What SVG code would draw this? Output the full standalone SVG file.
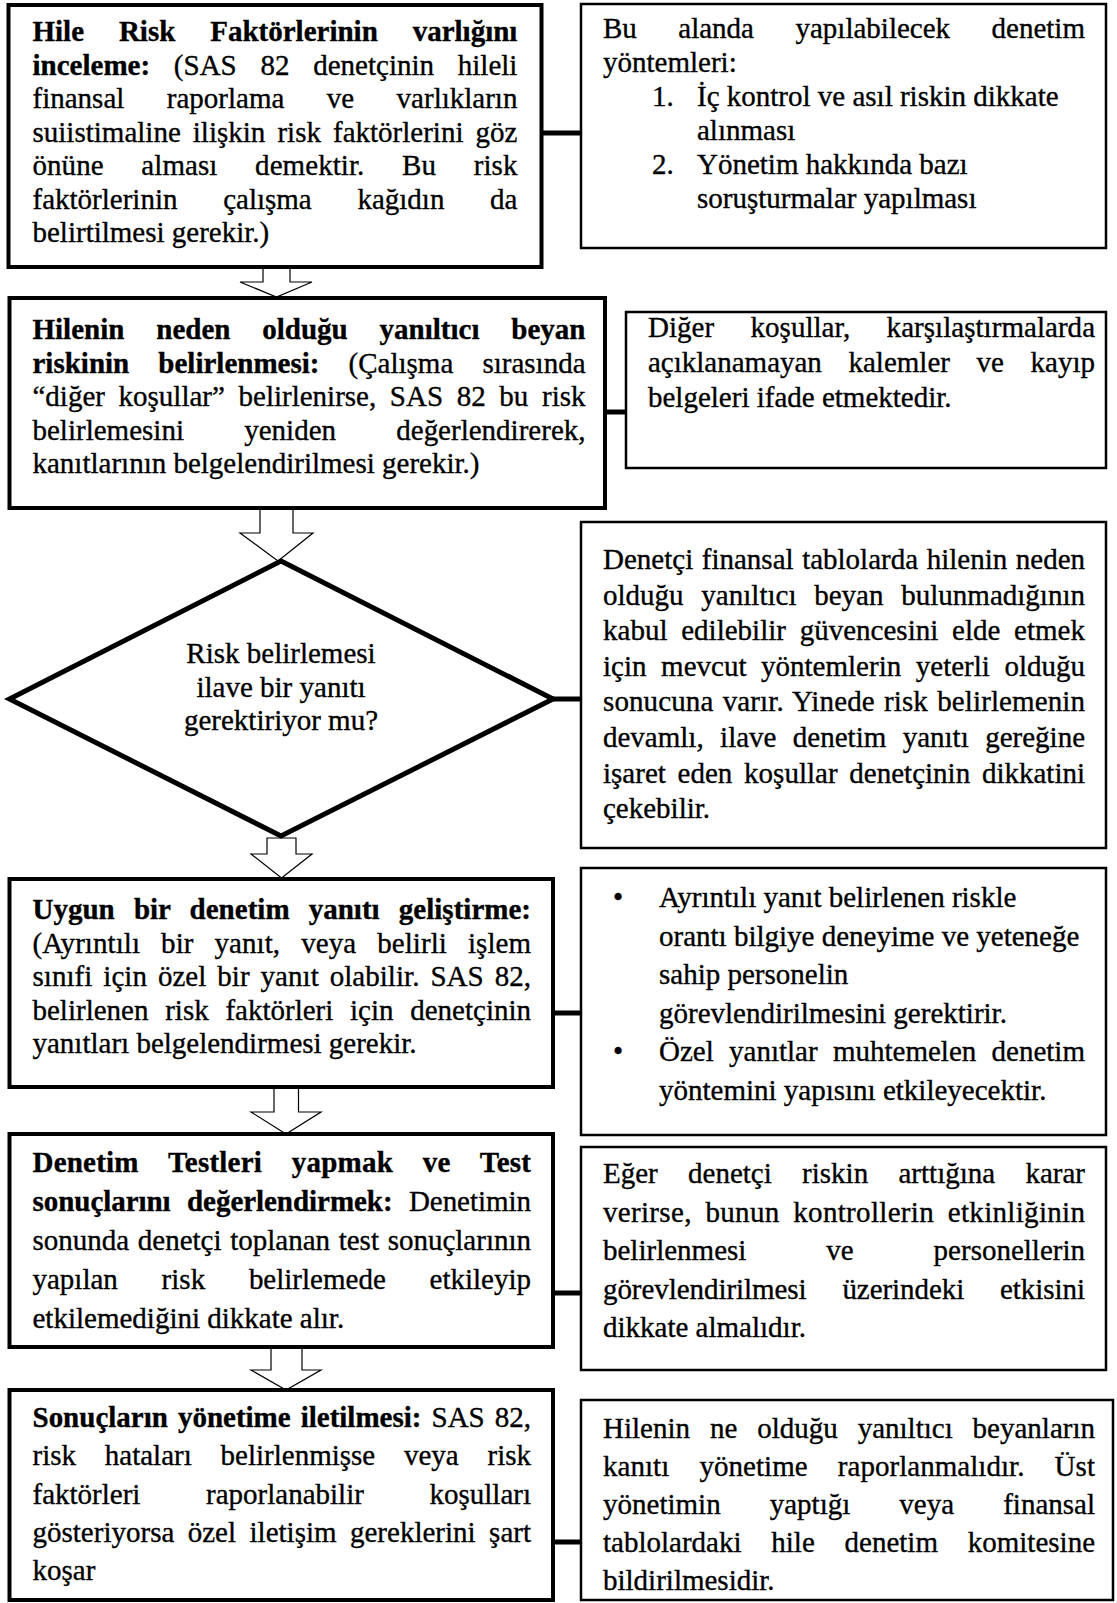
<svg xmlns="http://www.w3.org/2000/svg" width="1117" height="1603" viewBox="0 0 1117 1603">
  <style>
    .t { font-family: "Liberation Serif", "Times New Roman", serif; font-size: 29px; fill: #000; stroke: #000; stroke-width: 0.35px; }
    .b { font-weight: bold; }
    .box { fill: #fff; stroke: #000; stroke-width: 4; }
    .rbox { fill: #fff; stroke: #000; stroke-width: 2.5; }
    .dia { fill: #fff; stroke: #000; stroke-width: 5; stroke-linejoin: miter; }
    .conn { stroke: #000; stroke-width: 5; fill: none; }
    .arrow { fill: #fff; stroke: #000; stroke-width: 1.2; stroke-linejoin: miter; }
  </style>
  <rect width="1117" height="1603" fill="#fff"/>

  <!-- connectors: block arrows down the main column, bars to the side notes -->
  <g id="connectors">
    <path class="arrow" d="M263,267 L263,282 L240,282 L276.5,297 L312,282 L290,282 L290,267 Z"/>
    <path class="arrow" d="M260,508 L260,533 L240,533 L278,561 L313,533 L293,533 L293,508 Z"/>
    <path class="arrow" d="M267,838 L267,854 L251,854 L281.5,878 L312,854 L296,854 L296,838 Z"/>
    <path class="arrow" d="M274,1087 L274,1112 L251,1112 L286,1134 L321,1112 L298.5,1112 L298.5,1087 Z"/>
    <path class="arrow" d="M271,1347 L271,1370 L251,1370 L286,1390 L321,1370 L302,1370 L302,1347 Z"/>
    <line class="conn" x1="541" y1="133" x2="582" y2="133"/>
    <line class="conn" x1="605" y1="412" x2="627" y2="412"/>
    <line class="conn" x1="553" y1="699" x2="582" y2="699"/>
    <line class="conn" x1="553" y1="1013" x2="582" y2="1013"/>
    <line class="conn" x1="553" y1="1293" x2="582" y2="1293"/>
    <line class="conn" x1="553" y1="1542" x2="582" y2="1542"/>
  </g>

  <!-- step 1 -->
  <g id="step1">
    <rect class="box" x="8.5" y="5" width="533" height="262"/>
    <text class="t b" x="32.5" y="41" textLength="484.9" lengthAdjust="spacing" style="word-spacing:27.6px">Hile Risk Faktörlerinin varlığını</text>
    <text class="t" x="32.5" y="74.5" textLength="484.9" lengthAdjust="spacing" style="word-spacing:16.5px"><tspan class="b">inceleme:</tspan> (SAS 82 denetçinin hileli</text>
    <text class="t" x="32.5" y="108" textLength="484.9" lengthAdjust="spacing" style="word-spacing:35.2px">finansal raporlama ve varlıkların</text>
    <text class="t" x="32.5" y="141.5" textLength="484.9" lengthAdjust="spacing" style="word-spacing:4.8px">suiistimaline ilişkin risk faktörlerini göz</text>
    <text class="t" x="32.5" y="175" textLength="484.9" lengthAdjust="spacing" style="word-spacing:30.4px">önüne alması demektir. Bu risk</text>
    <text class="t" x="32.5" y="208.5" textLength="484.9" lengthAdjust="spacing" style="word-spacing:38.4px">faktörlerinin çalışma kağıdın da</text>
    <text class="t" x="32.5" y="242">belirtilmesi gerekir.)</text>
  </g>
  <g id="note1">
    <rect class="rbox" x="581" y="4" width="525" height="244"/>
    <text class="t" x="603" y="38" textLength="482" lengthAdjust="spacing" style="word-spacing:34.2px">Bu alanda yapılabilecek denetim</text>
    <text class="t" x="603" y="72">yöntemleri:</text>
    <text class="t" x="652" y="106">1.</text>
    <text class="t" x="697" y="106">İç kontrol ve asıl riskin dikkate</text>
    <text class="t" x="697" y="140">alınması</text>
    <text class="t" x="652" y="174">2.</text>
    <text class="t" x="697" y="174">Yönetim hakkında bazı</text>
    <text class="t" x="697" y="208">soruşturmalar yapılması</text>
  </g>

  <!-- step 2 -->
  <g id="step2">
    <rect class="box" x="9.5" y="298" width="595.5" height="210"/>
    <text class="t b" x="32.5" y="339" textLength="553" lengthAdjust="spacing" style="word-spacing:24.6px">Hilenin neden olduğu yanıltıcı beyan</text>
    <text class="t" x="32.5" y="372.5" textLength="553" lengthAdjust="spacing" style="word-spacing:21.9px"><tspan class="b">riskinin belirlenmesi:</tspan> (Çalışma sırasında</text>
    <text class="t" x="32.5" y="406" textLength="553" lengthAdjust="spacing" style="word-spacing:6.4px">“diğer koşullar” belirlenirse, SAS 82 bu risk</text>
    <text class="t" x="32.5" y="439.5" textLength="553" lengthAdjust="spacing" style="word-spacing:53px">belirlemesini yeniden değerlendirerek,</text>
    <text class="t" x="32.5" y="473">kanıtlarının belgelendirilmesi gerekir.)</text>
  </g>
  <g id="note2">
    <rect class="rbox" x="626" y="312" width="480" height="156"/>
    <text class="t" x="648" y="337" textLength="447" lengthAdjust="spacing" style="word-spacing:29px">Diğer koşullar, karşılaştırmalarda</text>
    <text class="t" x="648" y="372" textLength="447" lengthAdjust="spacing" style="word-spacing:19.4px">açıklanamayan kalemler ve kayıp</text>
    <text class="t" x="648" y="407">belgeleri ifade etmektedir.</text>
  </g>

  <!-- decision -->
  <g id="decision">
    <polygon class="dia" points="281,561 553,699 281,836 9.5,699"/>
    <text class="t" x="281" y="663" text-anchor="middle">Risk belirlemesi</text>
    <text class="t" x="281" y="697" text-anchor="middle">ilave bir yanıtı</text>
    <text class="t" x="281" y="730" text-anchor="middle">gerektiriyor mu?</text>
  </g>
  <g id="note3">
    <rect class="rbox" x="581" y="522" width="525" height="326"/>
    <text class="t" x="603" y="569" textLength="482" lengthAdjust="spacing" style="word-spacing:1.3px">Denetçi finansal tablolarda hilenin neden</text>
    <text class="t" x="603" y="604.6" textLength="482" lengthAdjust="spacing" style="word-spacing:10.5px">olduğu yanıltıcı beyan bulunmadığının</text>
    <text class="t" x="603" y="640.2" textLength="482" lengthAdjust="spacing" style="word-spacing:6.5px">kabul edilebilir güvencesini elde etmek</text>
    <text class="t" x="603" y="675.8" textLength="482" lengthAdjust="spacing" style="word-spacing:7.3px">için mevcut yöntemlerin yeterli olduğu</text>
    <text class="t" x="603" y="711.4" textLength="482" lengthAdjust="spacing" style="word-spacing:1.9px">sonucuna varır. Yinede risk belirlemenin</text>
    <text class="t" x="603" y="747" textLength="482" lengthAdjust="spacing" style="word-spacing:9.15px">devamlı, ilave denetim yanıtı gereğine</text>
    <text class="t" x="603" y="782.6" textLength="482" lengthAdjust="spacing" style="word-spacing:4.5px">işaret eden koşullar denetçinin dikkatini</text>
    <text class="t" x="603" y="818.2">çekebilir.</text>
  </g>

  <!-- step 3 -->
  <g id="step3">
    <rect class="box" x="9.5" y="879" width="543.5" height="208"/>
    <text class="t b" x="32.5" y="919" textLength="498.5" lengthAdjust="spacing" style="word-spacing:11.85px">Uygun bir denetim yanıtı geliştirme:</text>
    <text class="t" x="32.5" y="952.5" textLength="498.5" lengthAdjust="spacing" style="word-spacing:13.7px">(Ayrıntılı bir yanıt, veya belirli işlem</text>
    <text class="t" x="32.5" y="986" textLength="498.5" lengthAdjust="spacing" style="word-spacing:3.66px">sınıfi için özel bir yanıt olabilir. SAS 82,</text>
    <text class="t" x="32.5" y="1019.5" textLength="498.5" lengthAdjust="spacing" style="word-spacing:9.45px">belirlenen risk faktörleri için denetçinin</text>
    <text class="t" x="32.5" y="1053">yanıtları belgelendirmesi gerekir.</text>
  </g>
  <g id="note4">
    <rect class="rbox" x="581" y="868" width="525" height="267"/>
    <text class="t" x="618" y="907" text-anchor="middle">•</text>
    <text class="t" x="659" y="907">Ayrıntılı yanıt belirlenen riskle</text>
    <text class="t" x="659" y="945.6">orantı bilgiye deneyime ve yeteneğe</text>
    <text class="t" x="659" y="984.2">sahip personelin</text>
    <text class="t" x="659" y="1022.8">görevlendirilmesini gerektirir.</text>
    <text class="t" x="618" y="1061.4" text-anchor="middle">•</text>
    <text class="t" x="659" y="1061.4" textLength="426" lengthAdjust="spacing" style="word-spacing:8px">Özel yanıtlar muhtemelen denetim</text>
    <text class="t" x="659" y="1100">yöntemini yapısını etkileyecektir.</text>
  </g>

  <!-- step 4 -->
  <g id="step4">
    <rect class="box" x="9.5" y="1134" width="543.5" height="213"/>
    <text class="t b" x="32.5" y="1172" textLength="498.5" lengthAdjust="spacing" style="word-spacing:22.3px">Denetim Testleri yapmak ve Test</text>
    <text class="t" x="32.5" y="1211" textLength="498.5" lengthAdjust="spacing" style="word-spacing:9.2px"><tspan class="b">sonuçlarını değerlendirmek:</tspan> Denetimin</text>
    <text class="t" x="32.5" y="1250" textLength="498.5" lengthAdjust="spacing" style="word-spacing:1.4px">sonunda denetçi toplanan test sonuçlarının</text>
    <text class="t" x="32.5" y="1289" textLength="498.5" lengthAdjust="spacing" style="word-spacing:36.5px">yapılan risk belirlemede etkileyip</text>
    <text class="t" x="32.5" y="1328">etkilemediğini dikkate alır.</text>
  </g>
  <g id="note5">
    <rect class="rbox" x="581" y="1147" width="525" height="223"/>
    <text class="t" x="603" y="1183" textLength="482" lengthAdjust="spacing" style="word-spacing:23.05px">Eğer denetçi riskin arttığına karar</text>
    <text class="t" x="603" y="1221.5" textLength="482" lengthAdjust="spacing" style="word-spacing:6.2px">verirse, bunun kontrollerin etkinliğinin</text>
    <text class="t" x="603" y="1260" textLength="482" lengthAdjust="spacing" style="word-spacing:72.7px">belirlenmesi ve personellerin</text>
    <text class="t" x="603" y="1298.5" textLength="482" lengthAdjust="spacing" style="word-spacing:28.7px">görevlendirilmesi üzerindeki etkisini</text>
    <text class="t" x="603" y="1337">dikkate almalıdır.</text>
  </g>

  <!-- step 5 -->
  <g id="step5">
    <rect class="box" x="9.5" y="1390" width="543.5" height="210"/>
    <text class="t" x="32.5" y="1427" textLength="498.5" lengthAdjust="spacing" style="word-spacing:2.8px"><tspan class="b">Sonuçların yönetime iletilmesi:</tspan> SAS 82,</text>
    <text class="t" x="32.5" y="1465.3" textLength="498.5" lengthAdjust="spacing" style="word-spacing:21.5px">risk hataları belirlenmişse veya risk</text>
    <text class="t" x="32.5" y="1503.6" textLength="498.5" lengthAdjust="spacing" style="word-spacing:58.4px">faktörleri raporlanabilir koşulları</text>
    <text class="t" x="32.5" y="1542" textLength="498.5" lengthAdjust="spacing" style="word-spacing:6.2px">gösteriyorsa özel iletişim gereklerini şart</text>
    <text class="t" x="32.5" y="1580">koşar</text>
  </g>
  <g id="note6">
    <rect class="rbox" x="581" y="1400" width="532" height="200"/>
    <text class="t" x="603" y="1438" textLength="492" lengthAdjust="spacing" style="word-spacing:12.65px">Hilenin ne olduğu yanıltıcı beyanların</text>
    <text class="t" x="603" y="1476" textLength="492" lengthAdjust="spacing" style="word-spacing:22.8px">kanıtı yönetime raporlanmalıdır. Üst</text>
    <text class="t" x="603" y="1514" textLength="492" lengthAdjust="spacing" style="word-spacing:41.8px">yönetimin yaptığı veya finansal</text>
    <text class="t" x="603" y="1552" textLength="492" lengthAdjust="spacing" style="word-spacing:22.5px">tablolardaki hile denetim komitesine</text>
    <text class="t" x="603" y="1590">bildirilmesidir.</text>
  </g>
</svg>
